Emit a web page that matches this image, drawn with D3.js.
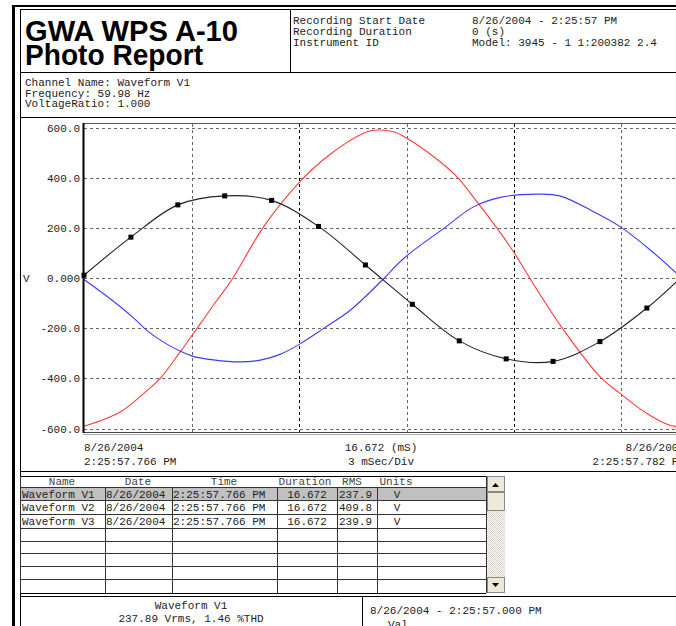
<!DOCTYPE html>
<html>
<head>
<meta charset="utf-8">
<script src="https://cdn.jsdelivr.net/npm/d3@7"></script>
<style>
  body { margin: 0; background: #fff; overflow: hidden; }
  svg { display: block; }
  text { font-family: "Courier New", "Liberation Mono", monospace; font-size: 11px; fill: #222; }
</style>
</head>
<body>
<svg width="676" height="626"></svg>
<script>
// ---- data ----
var yTicks = [600, 400, 200, 0, -200, -400, -600];
var yTickLabels = ["600.0", "400.0", "200.0", "0.000", "-200.0", "-400.0", "-600.0"];
var gridTimes = [3, 6, 9, 12, 15];          // ms, 3 mSec/Div
var cursorTimes = [6, 12];                    // darker dashed lines
var duration = 16.672;

// Waveform V1 (black, with markers)
var v1Time = [0, 1.309, 2.618, 3.927, 5.236, 6.545, 7.854, 9.163, 10.472, 11.781, 13.09, 14.399, 15.708, 16.672];
var v1Vals = [12, 164, 293, 329, 311, 207, 53, -104, -250, -322, -332, -253, -119, 5];

// Waveform V2 (red)
var v2Time = [0, 1.0, 1.66, 2.12, 2.68, 3.15, 3.71, 4.13, 5.01, 5.99, 6.87, 7.9, 8.22, 8.64, 9.01, 9.76, 10.41, 10.97, 11.53, 11.99, 12.65, 13.39, 14.41, 14.97, 15.72, 16.37, 16.672];
var v2Vals = [-591, -535, -461, -401, -295, -201, -88, -5, 205, 380, 495, 585, 592, 585, 559, 485, 405, 305, 199, 105, -48, -208, -395, -461, -541, -588, -592];

// Waveform V3 (blue)
var v3Time = [0, 0.73, 1.38, 1.75, 2.22, 2.68, 3.05, 3.61, 4.36, 4.92, 5.47, 6.03, 6.68, 7.43, 8.32, 8.92, 10.04, 10.87, 11.62, 12.74, 13.3, 14.23, 14.97, 15.81, 16.54, 16.672];
var v3Vals = [-5, -82, -158, -208, -255, -291, -312, -326, -334, -327, -304, -262, -201, -128, -8, 79, 199, 285, 323, 336, 328, 265, 205, 112, 19, 0];

// table
var tableHead = ["Name", "Date", "Time", "Duration", "RMS", "Units"];
var tableNames = ["Waveform V1", "Waveform V2", "Waveform V3"];
var tableDates = ["8/26/2004", "8/26/2004", "8/26/2004"];
var tableTimes = ["2:25:57.766 PM", "2:25:57.766 PM", "2:25:57.766 PM"];
var tableDur = ["16.672", "16.672", "16.672"];
var tableRms = ["237.9", "409.8", "239.9"];
var tableUnits = ["V", "V", "V"];

var svg = d3.select("svg"),
    width = +svg.attr("width"),
    height = +svg.attr("height");

function line(x1, y1, x2, y2, w, c) {
    return svg.append("line").attr("x1", x1).attr("y1", y1).attr("x2", x2).attr("y2", y2)
        .attr("stroke", c || "#000").attr("stroke-width", w || 1);
}
function label(x, y, s, anchor) {
    return svg.append("text").attr("x", x).attr("y", y).attr("text-anchor", anchor || "start").text(s);
}

//////////////////////////////
// Frame and header
line(13.5, 5, 13.5, height, 3);
line(12, 6, width, 6, 2);
line(20.5, 9, 20.5, height, 1);
line(20, 9.5, width, 9.5, 1);
line(290.5, 9, 290.5, 72, 1);
line(20, 72.5, width, 72.5, 1);
line(20, 117.5, width, 117.5, 1);

svg.append("text").attr("x", 25).attr("y", 41)
    .attr("textLength", 213).attr("lengthAdjust", "spacingAndGlyphs")
    .style("font-family", "Arial, 'Liberation Sans', sans-serif").style("font-weight", "bold")
    .style("font-size", "29px").style("fill", "#000").text("GWA WPS A-10");
svg.append("text").attr("x", 25).attr("y", 65)
    .attr("textLength", 178).attr("lengthAdjust", "spacingAndGlyphs")
    .style("font-family", "Arial, 'Liberation Sans', sans-serif").style("font-weight", "bold")
    .style("font-size", "29px").style("fill", "#000").text("Photo Report");

label(293, 24, "Recording Start Date");
label(293, 35, "Recording Duration");
label(293, 46, "Instrument ID");
label(472, 24, "8/26/2004 - 2:25:57 PM");
label(472, 35, "0 (s)");
label(472, 46, "Model: 3945 - 1 1:200382 2.4");

label(25, 86, "Channel Name: Waveform V1");
label(25, 96.5, "Frequency: 59.98 Hz");
label(25, 107, "VoltageRatio: 1.000");

//////////////////////////////
// Plot
var x = d3.scaleLinear().domain([0, duration]).range([84, 84 + duration / 3 * 107.5]);
var y = d3.scaleLinear().domain([-600, 600]).range([428.5, 128]);

var plot = svg.append("g");

// horizontal grid
plot.selectAll(".hgrid").data(yTicks).enter().append("line")
    .attr("x1", 84).attr("x2", width)
    .attr("y1", function(d) { return Math.round(y(d)) + 0.5; })
    .attr("y2", function(d) { return Math.round(y(d)) + 0.5; })
    .attr("stroke", "#666").attr("stroke-dasharray", "3,3");

// vertical grid
plot.selectAll(".vgrid").data(gridTimes).enter().append("line")
    .attr("x1", function(d) { return Math.round(x(d)) + 0.5; })
    .attr("x2", function(d) { return Math.round(x(d)) + 0.5; })
    .attr("y1", 124).attr("y2", 432)
    .attr("stroke", function(d) { return cursorTimes.indexOf(d) >= 0 ? "#000" : "#666"; })
    .attr("stroke-dasharray", "3,3");

// frame of plot
line(83, 123.5, width, 123.5, 1, "#555");
line(83, 432.5, width, 432.5, 1, "#444");
line(83, 434.5, width, 434.5, 1, "#aaa");
line(83.5, 123, 83.5, 433, 2, "#000");

// y axis labels
plot.selectAll(".ylab").data(yTicks).enter().append("text")
    .attr("x", 80).attr("y", function(d) { return y(d) + 4; })
    .attr("text-anchor", "end")
    .text(function(d, i) { return yTickLabels[i]; });
label(23, 282, "V");

// x labels
label(84, 451, "8/26/2004");
label(84, 465, "2:25:57.766 PM");
label(381, 451, "16.672 (mS)", "middle");
label(381, 465, "3 mSec/Div", "middle");
label(685, 451, "8/26/2004", "end");
label(685, 465, "2:25:57.782 PM", "end");

// curves
var curve = d3.line()
    .x(function(d) { return x(d[0]); })
    .y(function(d) { return y(d[1]); })
    .curve(d3.curveCatmullRom);

var series = [
    { t: v2Time, v: v2Vals, color: "#ff3a3a" },
    { t: v3Time, v: v3Vals, color: "#3a3aff" },
    { t: v1Time, v: v1Vals, color: "#222" }
];
plot.selectAll(".wave").data(series).enter().append("path")
    .attr("fill", "none")
    .attr("stroke", function(d) { return d.color; })
    .attr("stroke-width", 1.1)
    .attr("d", function(d) { return curve(d.t.map(function(t, i) { return [t, d.v[i]]; })); });

// V1 markers
plot.selectAll(".mark").data(v1Time.slice(0, 13)).enter().append("rect")
    .attr("x", function(d) { return x(d) - 2.5; })
    .attr("y", function(d, i) { return y(v1Vals[i]) - 2.5; })
    .attr("width", 5).attr("height", 5)
    .attr("fill", "#000");

//////////////////////////////
// Table
line(20, 471.5, width, 471.5, 1);
var colX = [20, 105, 172, 277, 337, 377, 486];
var rowY = [476, 487, 500, 514, 528, 541, 553, 566, 579, 593];

svg.append("rect").attr("x", 21).attr("y", rowY[1]).attr("width", 465).attr("height", rowY[2] - rowY[1])
    .attr("fill", "#c0c0c0");
rowY.forEach(function(r, i) {
    line(20, r + 0.5, 486, r + 0.5, 1, i === 0 || i === rowY.length - 1 ? "#000" : "#333");
});
colX.forEach(function(c, i) {
    line(c + 0.5, i === 0 || i === colX.length - 1 ? rowY[0] : rowY[1], c + 0.5, rowY[rowY.length - 1], 1, "#333");
});

var headX = [62, 138, 224, 305, 352, 396];
tableHead.forEach(function(h, i) { label(headX[i], 484.5, h, "middle").style("fill", "#444"); });

var cols = [tableNames, tableDates, tableTimes, tableDur, tableRms, tableUnits];
var cellX = [22, 106, 173, 307, 339, 397];
var cellAnchor = ["start", "start", "start", "middle", "start", "middle"];
for (var r = 0; r < tableNames.length; r++) {
    for (var c = 0; c < cols.length; c++) {
        label(cellX[c], (rowY[r + 1] + rowY[r + 2]) / 2 + 4, cols[c][r], cellAnchor[c]);
    }
}

// scrollbar
var defs = svg.append("defs");
var pat = defs.append("pattern").attr("id", "track").attr("width", 2).attr("height", 2).attr("patternUnits", "userSpaceOnUse");
pat.append("rect").attr("width", 2).attr("height", 2).attr("fill", "#fff");
pat.append("rect").attr("width", 1).attr("height", 1).attr("fill", "#d4d0c8");
pat.append("rect").attr("x", 1).attr("y", 1).attr("width", 1).attr("height", 1).attr("fill", "#d4d0c8");
svg.append("rect").attr("x", 487).attr("y", 476).attr("width", 18).attr("height", 117).attr("fill", "url(#track)");
function button(yy, h) {
    svg.append("rect").attr("x", 487.5).attr("y", yy + 0.5).attr("width", 17).attr("height", h - 1)
        .attr("fill", "#ece9d8").attr("stroke", "#888");
}
button(476, 16);
button(492, 19);
button(577, 16);
svg.append("path").attr("d", "M492,487 L499,487 L495.5,483 Z").attr("fill", "#000");
svg.append("path").attr("d", "M492,583 L499,583 L495.5,587 Z").attr("fill", "#000");

//////////////////////////////
// Bottom summary
line(20, 596.5, width, 596.5, 1);
line(362.5, 597, 362.5, height, 1);
label(191, 609, "Waveform V1", "middle");
label(191, 622, "237.89 Vrms, 1.46 %THD", "middle");
label(370, 614, "8/26/2004 - 2:25:57.000 PM");
label(388, 628, "Val");
</script>
</body>
</html>
